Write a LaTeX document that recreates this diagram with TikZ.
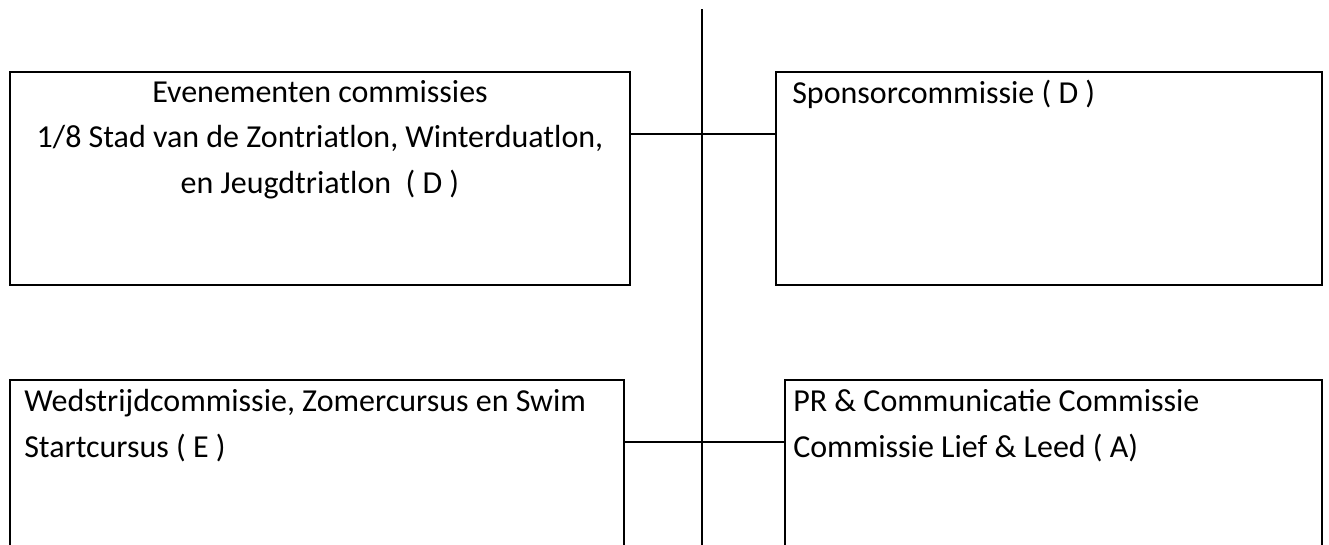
\documentclass[tikz,border=0pt]{standalone}
\usepackage{fontspec}
\setmainfont{Carlito}
\usetikzlibrary{fit}
\begin{document}
\begin{tikzpicture}[x=0.75pt, y=-0.75pt,
  box/.style={draw, line width=1.5pt, inner sep=0pt},
  conn/.style={line width=1.5pt},
  lbl/.style={font=\fontsize{24}{34}\selectfont, inner sep=0pt}]
  \useasboundingbox (0,0) rectangle (1329,544);
  \clip (0,0) rectangle (1329,544);
  % kaders
  \node[box, fit={(10,72) (630,285)}] (even) {};
  \node[box, fit={(776,72) (1322,285)}] (spons) {};
  \node[box, fit={(10,380) (624,620)}] (wedstr) {};
  \node[box, fit={(785,380) (1322,620)}] (pr) {};
  % ruggengraat
  \coordinate (top) at (702,9);
  \coordinate (bot) at (702,600);
  \coordinate (j1) at (702,134);
  \coordinate (j2) at (702,442);
  \draw[conn] (top) -- (bot);
  \draw[conn] (even.east |- j1) -- (spons.west |- j1);
  \draw[conn] (wedstr.east |- j2) -- (pr.west |- j2);
  % teksten (anker = basislijn van de laatste regel)
  \node[lbl, align=center, anchor=base] (evtxt) at (320,193)
    {Evenementen commissies\\1/8 Stad van de Zontriatlon, Winterduatlon,\\en Jeugdtriatlon\ \ ( D )};
  \node[lbl, anchor=base west] (sptxt) at (792,103) {Sponsorcommissie ( D )};
  \node[lbl, align=left, anchor=base west] (wdtxt) at (24,457)
    {Wedstrijdcommissie, Zomercursus en Swim\\Startcursus ( E )};
  \node[lbl, align=left, anchor=base west] (prtxt) at (793,457)
    {PR \& Communicatie Commissie\\Commissie Lief \& Leed ( A)};
\end{tikzpicture}
\end{document}
